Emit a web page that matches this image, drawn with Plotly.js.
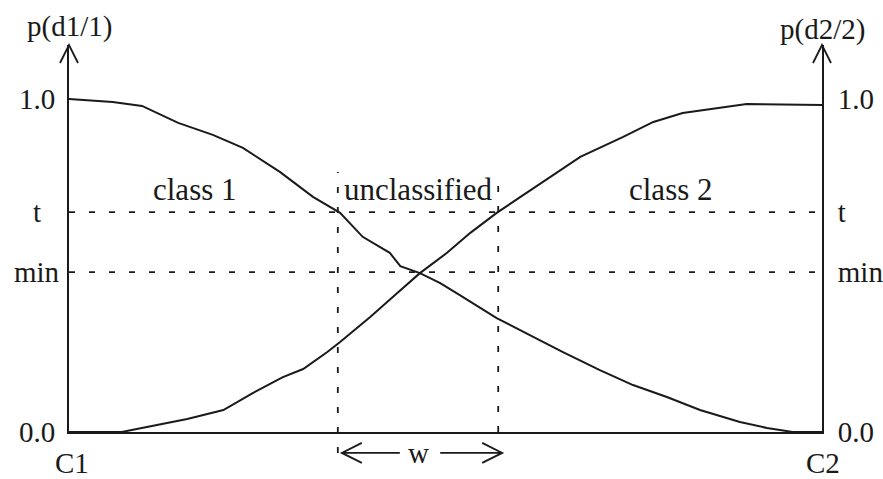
<!DOCTYPE html>
<html>
<head>
<meta charset="utf-8">
<script src="https://cdn.plot.ly/plotly-3.0.1.min.js"></script>
<style>html,body{margin:0;padding:0;background:#fff;}#chart{width:883px;height:479px;}</style>
</head>
<body>
<div id="chart"></div>
<script>
// ---- data ----
const xClass1 = [0, 0.058, 0.097, 0.145, 0.191, 0.231, 0.280, 0.324, 0.360, 0.390, 0.426, 0.440, 0.466, 0.493, 0.519, 0.568, 0.612, 0.656, 0.705, 0.749, 0.794, 0.838, 0.891, 0.927, 0.961, 1.0];
const pClass1 = [1.0, 0.991, 0.979, 0.928, 0.892, 0.853, 0.781, 0.706, 0.658, 0.586, 0.538, 0.498, 0.477, 0.447, 0.411, 0.342, 0.291, 0.240, 0.186, 0.141, 0.105, 0.066, 0.030, 0.012, 0.0, 0.0];
const xClass2 = [0, 0.070, 0.157, 0.205, 0.244, 0.284, 0.311, 0.343, 0.360, 0.400, 0.436, 0.466, 0.502, 0.533, 0.568, 0.679, 0.736, 0.776, 0.815, 0.900, 1.0];
const pClass2 = [0.0, 0.0, 0.039, 0.066, 0.117, 0.165, 0.189, 0.240, 0.270, 0.345, 0.417, 0.477, 0.538, 0.598, 0.658, 0.826, 0.886, 0.931, 0.958, 0.985, 0.982];
const tLevel = 0.66;
const minLevel = 0.48;
const wLeft = 0.357;
const wRight = 0.570;
const yTickVals = [0, minLevel, tLevel, 1.0];
const yTickText = ['0.0', 'min', 't', '1.0'];
const xTickVals = [0, 1];
const xTickText = ['C1', 'C2'];
const regionLabels = ['class 1', 'unclassified', 'class 2'];
const regionLabelX = [0.167, (wLeft + wRight) / 2, 0.80];
const regionLabelY = 0.727;

const ink = '#1a1a1a';
const FONT = 'Liberation Serif, Times New Roman, serif';

const traces = [
  {x: xClass1, y: pClass1, mode: 'lines', line: {color: ink, width: 2}, yaxis: 'y', hoverinfo: 'skip'},
  {x: xClass2, y: pClass2, mode: 'lines', line: {color: ink, width: 2}, yaxis: 'y2', hoverinfo: 'skip'}
];

const yTop = 1.162;
const axisCommon = {
  range: [0, yTop], showgrid: false, zeroline: false, showline: true, linecolor: ink, linewidth: 2,
  tickvals: yTickVals, ticktext: yTickText, ticks: '', fixedrange: true,
  tickfont: {family: FONT, size: 29, color: ink}, ticklabelstandoff: 8
};

const dash = '6px,14px';
const shapes = [];
// horizontal threshold lines
[tLevel, minLevel].forEach(v => shapes.push({type: 'line', xref: 'x', yref: 'y', x0: 0, x1: 1, y0: v, y1: v, line: {color: ink, width: 1.8, dash: dash}}));
// vertical window lines
const yAbove = (432 - 172) / 387;
shapes.push({type: 'line', xref: 'x', yref: 'paper', x0: wLeft, x1: wLeft, y0: -0.054, y1: yAbove, line: {color: ink, width: 1.8, dash: dash}});
shapes.push({type: 'line', xref: 'x', yref: 'paper', x0: wRight, x1: wRight, y0: 0, y1: yAbove, line: {color: ink, width: 1.8, dash: dash}});
function pix(xref, xd, yp, path) {
  return {type: 'path', xref: xref, yref: 'paper', xsizemode: 'pixel', ysizemode: 'pixel', xanchor: xd, yanchor: yp, path: path, line: {color: ink, width: 1.8}};
}
// axis arrow heads
shapes.push(pix('paper', 0, 1, 'M -9 -18 L 0 0 L 9 -18'));
shapes.push(pix('paper', 1, 1, 'M -9 -18 L 0 0 L 9 -18'));
// w arrows
const yW = -0.054;
shapes.push(pix('x', wLeft, yW, 'M 24 10 L 4 0 L 24 -10 M 4 0 L 62 0'));
shapes.push(pix('x', wRight, yW, 'M -16 10 L 4 0 L -16 -10 M 4 0 L -58 0'));

const tickFont = {family: FONT, size: 29, color: ink};
const annotations = [
  {text: 'p(d1/1)', xref: 'paper', yref: 'paper', x: 0, y: 1, xanchor: 'center', yanchor: 'bottom', showarrow: false, font: tickFont},
  {text: 'p(d2/2)', xref: 'paper', yref: 'paper', x: 1, y: 1, xanchor: 'center', yanchor: 'bottom', showarrow: false, yshift: -3, font: tickFont},
  {text: 'w', xref: 'x', yref: 'paper', x: (wLeft + wRight) / 2, y: yW, xanchor: 'center', yanchor: 'middle', showarrow: false, font: tickFont}
];
// bottom labels C1 / C2
xTickVals.forEach((v, i) => annotations.push({text: xTickText[i], xref: 'x', yref: 'paper', x: v, y: -0.08, xanchor: 'center', yanchor: 'middle', xshift: i === 0 ? 3 : 1, showarrow: false, font: tickFont}));
// left axis labels (centred, as in the reference)
yTickVals.forEach((v, i) => annotations.push({text: yTickText[i], xref: 'paper', yref: 'y', x: 0, y: v, xanchor: 'center', yanchor: 'middle', xshift: -32, showarrow: false, font: tickFont}));
regionLabels.forEach((t, i) => annotations.push({text: t, xref: 'x', yref: 'y', x: regionLabelX[i], y: regionLabelY, xanchor: 'center', showarrow: false, font: {family: FONT, size: 31, color: ink}}));

const layout = {
  width: 883, height: 479,
  margin: {l: 69, r: 61, t: 45, b: 47},
  paper_bgcolor: '#fff', plot_bgcolor: '#fff',
  showlegend: false,
  xaxis: {range: [0, 1], showgrid: false, zeroline: false, showline: true, linecolor: ink, linewidth: 2,
          showticklabels: false, ticks: '', fixedrange: true},
  yaxis: Object.assign({}, axisCommon, {side: 'left', showticklabels: false}),
  yaxis2: Object.assign({}, axisCommon, {side: 'right', overlaying: 'y'}),
  shapes: shapes,
  annotations: annotations
};

Plotly.newPlot('chart', traces, layout, {staticPlot: true, displayModeBar: false});
</script>
</body>
</html>
